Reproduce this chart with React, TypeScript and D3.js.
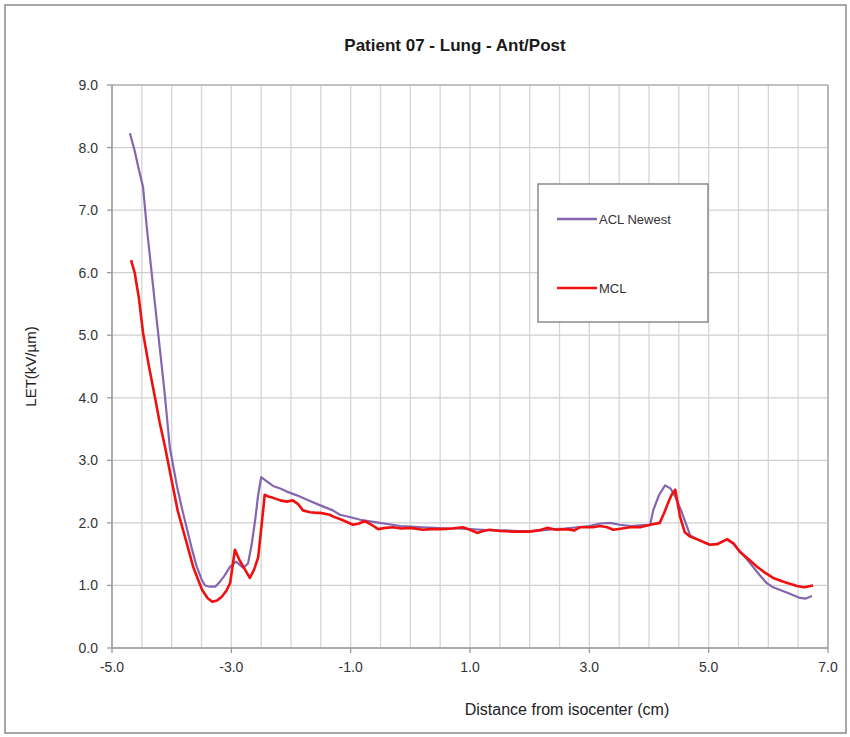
import React from "react";
import * as d3 from "d3";

// Distance from isocenter (cm) and LET (kV/µm) for each transport model
const aclX = [-4.70, -4.62, -4.56, -4.48, -4.42, -4.36, -4.28, -4.20, -4.12, -4.03, -3.91, -3.82, -3.74, -3.66, -3.58, -3.50, -3.44, -3.36, -3.27, -3.20, -3.12, -3.02, -2.92, -2.80, -2.72, -2.66, -2.60, -2.55, -2.50, -2.40, -2.30, -2.18, -2.07, -1.90, -1.73, -1.51, -1.30, -1.18, -1.00, -0.84, -0.65, -0.51, -0.30, -0.17, 0.00, 0.20, 0.40, 0.60, 0.80, 1.00, 1.20, 1.40, 1.60, 1.80, 2.00, 2.20, 2.40, 2.60, 2.80, 3.00, 3.18, 3.35, 3.51, 3.70, 3.85, 4.02, 4.07, 4.17, 4.27, 4.36, 4.44, 4.55, 4.69, 4.85, 5.02, 5.15, 5.31, 5.42, 5.52, 5.63, 5.74, 5.85, 5.97, 6.08, 6.19, 6.35, 6.53, 6.63, 6.73];
const aclY = [8.23, 7.95, 7.69, 7.37, 6.75, 6.22, 5.50, 4.80, 4.10, 3.20, 2.58, 2.20, 1.89, 1.58, 1.30, 1.10, 1.00, 0.98, 0.98, 1.05, 1.15, 1.30, 1.38, 1.28, 1.35, 1.65, 2.05, 2.45, 2.73, 2.66, 2.59, 2.55, 2.50, 2.44, 2.37, 2.28, 2.20, 2.13, 2.09, 2.05, 2.02, 2.00, 1.97, 1.95, 1.94, 1.93, 1.92, 1.91, 1.91, 1.90, 1.89, 1.88, 1.88, 1.87, 1.87, 1.88, 1.90, 1.91, 1.93, 1.95, 1.99, 2.00, 1.97, 1.95, 1.96, 1.97, 2.20, 2.45, 2.60, 2.55, 2.42, 2.17, 1.80, 1.72, 1.65, 1.67, 1.73, 1.66, 1.55, 1.43, 1.30, 1.17, 1.04, 0.97, 0.93, 0.87, 0.80, 0.79, 0.83];

const mclX = [-4.68, -4.62, -4.55, -4.48, -4.38, -4.28, -4.20, -4.11, -3.98, -3.90, -3.81, -3.72, -3.64, -3.56, -3.49, -3.40, -3.32, -3.24, -3.16, -3.08, -3.02, -2.94, -2.86, -2.80, -2.69, -2.62, -2.55, -2.50, -2.44, -2.38, -2.30, -2.18, -2.07, -1.97, -1.88, -1.80, -1.68, -1.57, -1.51, -1.35, -1.29, -1.15, -0.96, -0.86, -0.76, -0.65, -0.54, -0.42, -0.29, -0.15, 0.00, 0.21, 0.35, 0.50, 0.70, 0.88, 1.00, 1.12, 1.22, 1.33, 1.50, 1.72, 1.85, 2.00, 2.15, 2.29, 2.45, 2.62, 2.75, 2.84, 3.06, 3.18, 3.30, 3.40, 3.55, 3.68, 3.85, 4.02, 4.18, 4.25, 4.32, 4.38, 4.44, 4.52, 4.60, 4.69, 4.85, 5.02, 5.15, 5.31, 5.42, 5.52, 5.67, 5.81, 5.95, 6.08, 6.28, 6.48, 6.60, 6.75];
const mclY = [6.20, 6.00, 5.60, 5.04, 4.50, 4.01, 3.60, 3.21, 2.58, 2.20, 1.89, 1.58, 1.30, 1.10, 0.93, 0.80, 0.74, 0.76, 0.82, 0.92, 1.04, 1.57, 1.40, 1.30, 1.12, 1.25, 1.45, 1.90, 2.45, 2.42, 2.40, 2.36, 2.34, 2.36, 2.30, 2.20, 2.17, 2.16, 2.16, 2.13, 2.10, 2.05, 1.97, 1.99, 2.03, 1.97, 1.90, 1.92, 1.93, 1.91, 1.92, 1.89, 1.90, 1.90, 1.91, 1.93, 1.89, 1.84, 1.87, 1.89, 1.87, 1.86, 1.86, 1.86, 1.88, 1.92, 1.89, 1.90, 1.88, 1.93, 1.93, 1.95, 1.93, 1.89, 1.91, 1.93, 1.93, 1.97, 2.00, 2.15, 2.32, 2.45, 2.53, 2.10, 1.85, 1.78, 1.72, 1.65, 1.66, 1.74, 1.67, 1.54, 1.42, 1.30, 1.20, 1.12, 1.05, 0.99, 0.97, 1.00];

const xTicks = [-5.0, -3.0, -1.0, 1.0, 3.0, 5.0, 7.0];
const yTicks = [0, 1, 2, 3, 4, 5, 6, 7, 8, 9];
const xGrid = d3.range(-5, 7.001, 0.5);

const seriesNames = ["ACL Newest", "MCL"];
const seriesColors = ["#8466b0", "#f01010"];

const W = 850;
const H = 737;
const plot = { left: 112, right: 828, top: 85, bottom: 648 };

export default function App() {
  const x = d3.scaleLinear().domain([-5, 7]).range([plot.left, plot.right]);
  const y = d3.scaleLinear().domain([0, 9]).range([plot.bottom, plot.top]);
  const line = d3
    .line<[number, number]>()
    .x((d) => x(d[0]))
    .y((d) => y(d[1]))
    .curve(d3.curveLinear);

  const acl = aclX.map((v, i) => [v, aclY[i]] as [number, number]);
  const mcl = mclX.map((v, i) => [v, mclY[i]] as [number, number]);

  const font = "'Liberation Sans', Arial, sans-serif";

  return (
    <svg
      width={W}
      height={H}
      style={{ position: "absolute", left: 0, top: 0, background: "#fff" }}
      fontFamily={font}
    >
      <rect x={0} y={0} width={W} height={H} fill="#fff" />
      <rect x={5} y={5} width={841} height={728} fill="none" stroke="#8a8a8a" strokeWidth={1.5} />

      <text x={455} y={51} textAnchor="middle" fontSize={17} fontWeight="bold" fill="#1a1a1a">
        Patient 07 - Lung - Ant/Post
      </text>

      {/* grid */}
      {xGrid.map((g) => (
        <line key={"vx" + g} x1={x(g)} x2={x(g)} y1={plot.top} y2={plot.bottom} stroke="#d6d6d6" strokeWidth={1.3} />
      ))}
      {yTicks.map((t) => (
        <line key={"hy" + t} x1={plot.left} x2={plot.right} y1={y(t)} y2={y(t)} stroke="#cfcfcf" strokeWidth={1.3} />
      ))}
      <line x1={plot.right} x2={plot.right} y1={plot.top} y2={plot.bottom} stroke="#a8a8a8" strokeWidth={1.5} />
      <line x1={plot.left} x2={plot.right} y1={plot.top} y2={plot.top} stroke="#b8b8b8" strokeWidth={1.5} />

      {/* axes */}
      <line x1={plot.left} x2={plot.left} y1={plot.top} y2={plot.bottom} stroke="#9a9a9a" strokeWidth={1.5} />
      <line x1={plot.left} x2={plot.right} y1={plot.bottom} y2={plot.bottom} stroke="#9a9a9a" strokeWidth={1.5} />
      {yTicks.map((t) => (
        <g key={"yt" + t}>
          <line x1={plot.left - 5} x2={plot.left} y1={y(t)} y2={y(t)} stroke="#9a9a9a" strokeWidth={1.3} />
          <text x={plot.left - 14} y={y(t) + 5} textAnchor="end" fontSize={14} fill="#333">
            {t.toFixed(1)}
          </text>
        </g>
      ))}
      {xTicks.map((t) => (
        <g key={"xt" + t}>
          <line x1={x(t)} x2={x(t)} y1={plot.bottom} y2={plot.bottom + 5} stroke="#9a9a9a" strokeWidth={1.3} />
          <text x={x(t)} y={plot.bottom + 24} textAnchor="middle" fontSize={14} fill="#333">
            {t.toFixed(1)}
          </text>
        </g>
      ))}

      <text x={567} y={715} textAnchor="middle" fontSize={16} fill="#222">
        Distance from isocenter (cm)
      </text>
      <text
        transform={`translate(36, ${(plot.top + plot.bottom) / 2}) rotate(-90)`}
        textAnchor="middle"
        fontSize={15}
        fill="#222"
      >
        LET(kV/µm)
      </text>

      {/* series */}
      <path d={line(acl) ?? ""} fill="none" stroke={seriesColors[0]} strokeWidth={2.2} strokeLinejoin="round" />
      <path d={line(mcl) ?? ""} fill="none" stroke={seriesColors[1]} strokeWidth={2.6} strokeLinejoin="round" />

      {/* legend */}
      <rect x={538} y={184} width={170} height={138} fill="#fff" stroke="#8a8a8a" strokeWidth={1.5} />
      {seriesNames.map((name, i) => {
        const ly = 219 + i * 69;
        return (
          <g key={name}>
            <line x1={557} x2={597} y1={ly} y2={ly} stroke={seriesColors[i]} strokeWidth={2.4} />
            <text x={599} y={ly + 5} fontSize={13} fill="#333">
              {name}
            </text>
          </g>
        );
      })}
    </svg>
  );
}
